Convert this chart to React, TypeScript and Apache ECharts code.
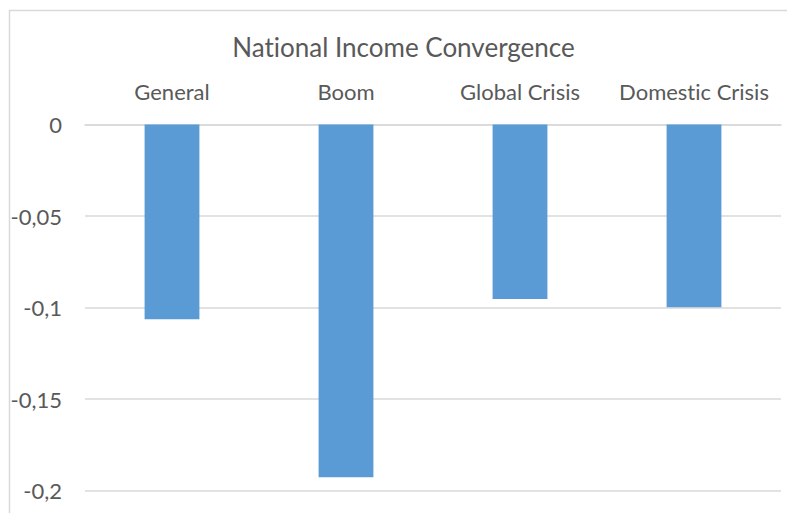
import React, { useEffect, useRef } from "react";
import * as echarts from "echarts";

const categories = ["General", "Boom", "Global Crisis", "Domestic Crisis"];
const values = [-0.1064, -0.1927, -0.0953, -0.0998];
const titleText = "National Income Convergence";
const yMin = -0.2;
const yMax = 0;
const yInterval = 0.05;

const FONT = "Lato";
const TEXT_COLOR = "#595959";
const GRID_COLOR = "#d9d9d9";

export default function App() {
  const ref = useRef<HTMLDivElement>(null);
  useEffect(() => {
    if (!ref.current) return;
    const chart = echarts.init(ref.current, null, { renderer: "svg" });
    chart.setOption({
      animation: false,
      backgroundColor: "#ffffff",
      title: {
        text: titleText,
        left: 403.5,
        top: 34,
        textAlign: "center",
        padding: 0,
        textStyle: { fontFamily: FONT, fontSize: 26, fontWeight: "normal", color: TEXT_COLOR },
      },
      graphic: [
        {
          type: "rect",
          shape: { x: 9.5, y: 10.5, width: 800, height: 600 },
          style: { fill: "none", stroke: GRID_COLOR, lineWidth: 1.5 },
          silent: true,
          z: -1,
        },
      ],
      grid: { left: 85, right: 6, top: 124.5, bottom: 22.3, containLabel: false },
      xAxis: {
        type: "category",
        data: categories,
        position: "top",
        axisLine: { show: true, lineStyle: { color: GRID_COLOR, width: 1.5 } },
        axisTick: { show: false },
        axisLabel: { interval: 0, margin: 22, fontFamily: FONT, fontSize: 22, color: TEXT_COLOR },
        splitLine: { show: false },
      },
      yAxis: {
        type: "value",
        min: yMin,
        max: yMax,
        interval: yInterval,
        axisLine: { show: false },
        axisTick: { show: false },
        splitLine: { show: true, lineStyle: { color: GRID_COLOR, width: 1.5 } },
        axisLabel: {
          margin: 23,
          fontFamily: FONT,
          fontSize: 22,
          color: TEXT_COLOR,
          formatter: (v: number) => String(Math.round(v * 100) / 100).replace(".", ","),
        },
      },
      series: [
        {
          type: "bar",
          data: values,
          barWidth: "31.5%",
          itemStyle: { color: "#5b9bd5" },
        },
      ],
    });
    return () => chart.dispose();
  }, []);
  return (
    <>
      <style>{"svg text { font-variant-ligatures: none; font-feature-settings: 'liga' 0; }"}</style>
      <div
        ref={ref}
        style={{ position: "fixed", left: 0, top: 0, width: 787, height: 513 }}
      />
    </>
  );
}
